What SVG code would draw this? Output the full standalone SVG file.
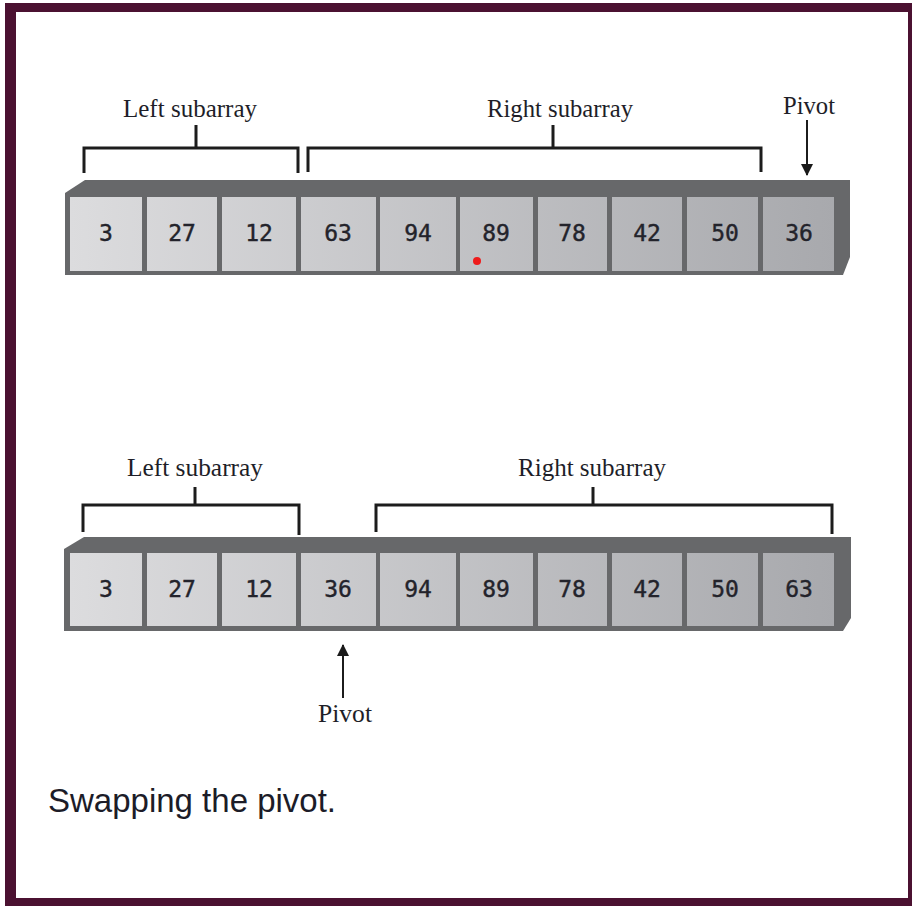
<svg xmlns="http://www.w3.org/2000/svg" width="912" height="906" viewBox="0 0 912 906">
<defs>
<linearGradient id="cellg" gradientUnits="userSpaceOnUse" x1="70" y1="0" x2="834" y2="0">
<stop offset="0" stop-color="#dcdcde"/>
<stop offset="1" stop-color="#a8a9ad"/>
</linearGradient>
<marker id="arr" viewBox="0 0 12 16" refX="11" refY="6" markerWidth="12" markerHeight="16" markerUnits="userSpaceOnUse" orient="auto">
<path d="M0,0 L12,6 L0,12 Z" fill="#1a1a1a"/>
</marker>
</defs>
<style>
.body{fill:#67686a;}
.cell{fill:url(#cellg);}
.num{font-family:"DejaVu Sans Mono",monospace;font-size:23px;fill:#23232b;text-anchor:middle;stroke:#23232b;stroke-width:0.4;}
.lbl{font-family:"Liberation Serif",serif;font-size:25px;fill:#1e1e28;text-anchor:middle;}
.br{fill:none;stroke:#1c1c1c;stroke-width:3;}
.ar{fill:none;stroke:#1c1c1c;stroke-width:2;}
.cap{font-family:"Liberation Sans",sans-serif;font-size:33px;fill:#1c1c28;}
</style>
<rect x="0" y="0" width="912" height="906" fill="#ffffff"/>
<path d="M5,3 H916 V906 H5 Z M16,12 V898 H908 V12 Z" fill="#4b1131" fill-rule="evenodd"/>

<g id="array-top">
<path class="body" d="M65,193 L85,180 H850 V257 L843,275 H65 Z"/>
<g id="t0"><rect class="cell" x="70" y="197" width="72" height="74"/><text class="num" x="106" y="241">3</text></g>
<g id="t1"><rect class="cell" x="147" y="197" width="70" height="74"/><text class="num" x="182" y="241">27</text></g>
<g id="t2"><rect class="cell" x="222" y="197" width="74" height="74"/><text class="num" x="259" y="241">12</text></g>
<g id="t3"><rect class="cell" x="301" y="197" width="75" height="74"/><text class="num" x="338" y="241">63</text></g>
<g id="t4"><rect class="cell" x="380" y="197" width="76" height="74"/><text class="num" x="418" y="241">94</text></g>
<g id="t5"><rect class="cell" x="460" y="197" width="73" height="74"/><text class="num" x="496" y="241">89</text><circle cx="477" cy="261" r="4" fill="#ee1b1b"/></g>
<g id="t6"><rect class="cell" x="538" y="197" width="69" height="74"/><text class="num" x="572" y="241">78</text></g>
<g id="t7"><rect class="cell" x="612" y="197" width="70" height="74"/><text class="num" x="647" y="241">42</text></g>
<g id="t8"><rect class="cell" x="687" y="197" width="71" height="74"/><text class="num" x="725" y="241">50</text></g>
<g id="t9"><rect class="cell" x="763" y="197" width="71" height="74"/><text class="num" x="799" y="241">36</text></g>
</g>

<g id="array-bottom">
<path class="body" d="M64,549 L84,537 H851 V618 L843,631 H64 Z"/>
<g id="b0"><rect class="cell" x="70" y="553" width="72" height="73"/><text class="num" x="106" y="597">3</text></g>
<g id="b1"><rect class="cell" x="147" y="553" width="70" height="73"/><text class="num" x="182" y="597">27</text></g>
<g id="b2"><rect class="cell" x="222" y="553" width="74" height="73"/><text class="num" x="259" y="597">12</text></g>
<g id="b3"><rect class="cell" x="301" y="553" width="75" height="73"/><text class="num" x="338" y="597">36</text></g>
<g id="b4"><rect class="cell" x="380" y="553" width="76" height="73"/><text class="num" x="418" y="597">94</text></g>
<g id="b5"><rect class="cell" x="460" y="553" width="73" height="73"/><text class="num" x="496" y="597">89</text></g>
<g id="b6"><rect class="cell" x="538" y="553" width="69" height="73"/><text class="num" x="572" y="597">78</text></g>
<g id="b7"><rect class="cell" x="612" y="553" width="70" height="73"/><text class="num" x="647" y="597">42</text></g>
<g id="b8"><rect class="cell" x="687" y="553" width="71" height="73"/><text class="num" x="725" y="597">50</text></g>
<g id="b9"><rect class="cell" x="763" y="553" width="71" height="73"/><text class="num" x="799" y="597">63</text></g>
</g>

<g id="labels">
<text class="lbl" x="190" y="117" textLength="134" lengthAdjust="spacingAndGlyphs">Left subarray</text>
<text class="lbl" x="560" y="117" textLength="146" lengthAdjust="spacingAndGlyphs">Right subarray</text>
<text class="lbl" x="809" y="114" textLength="52" lengthAdjust="spacingAndGlyphs">Pivot</text>
<text class="lbl" x="195" y="476" textLength="136" lengthAdjust="spacingAndGlyphs">Left subarray</text>
<text class="lbl" x="592" y="476" textLength="148" lengthAdjust="spacingAndGlyphs">Right subarray</text>
<text class="lbl" x="345" y="722" textLength="54" lengthAdjust="spacingAndGlyphs">Pivot</text>
<text class="cap" x="48" y="812">Swapping the pivot.</text>
</g>

<g id="connectors">
<path class="br" d="M84,173 V148 H298 V173 M196,125 V148"/>
<path class="br" d="M308,172 V148 H761 V172 M553,125 V148"/>
<path class="br" d="M83,532 V505 H299 V535 M195,487 V505"/>
<path class="br" d="M376,532 V505 H832 V534 M593,487 V505"/>
<line class="ar" x1="807" y1="120" x2="807" y2="175" marker-end="url(#arr)"/>
<line class="ar" x1="343" y1="698" x2="343" y2="645" marker-end="url(#arr)"/>
</g>
</svg>
